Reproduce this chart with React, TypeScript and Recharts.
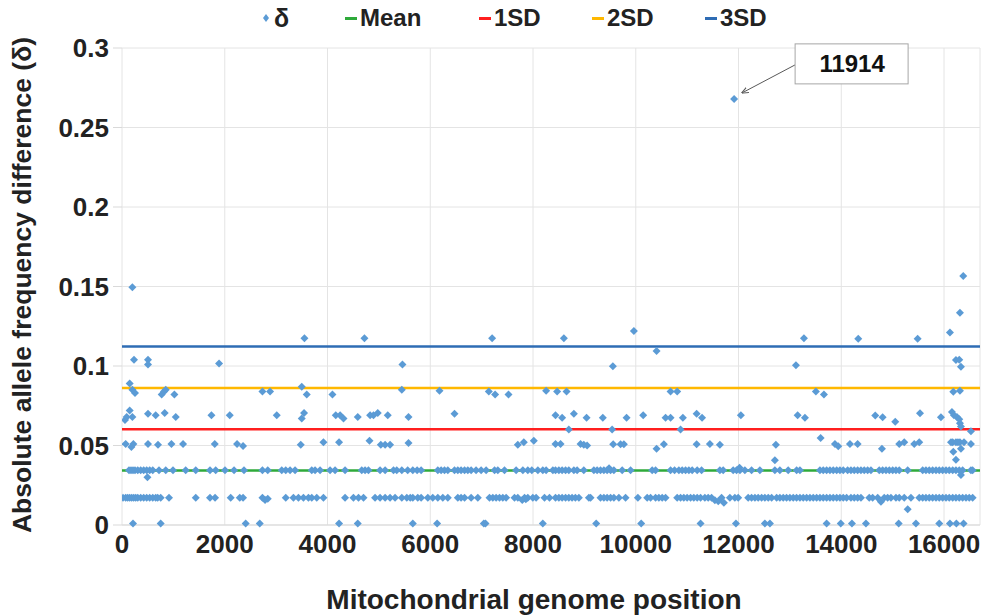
import React from 'react';
import {
  CartesianGrid,
  ReferenceDot,
  ReferenceLine,
  Scatter,
  ScatterChart,
  XAxis,
  YAxis,
} from 'recharts';

// δ values sit on a few discrete levels; rows are listed by genome position
const ZERO_ROW_Y = 0.001;
const LOW_ROW_Y = 0.0172;
const MEAN_ROW_Y = 0.0344;

const zeroRowX = [
  214, 753, 2408, 2681, 4225, 4589, 5660, 6133, 7042, 7075, 8191, 9229, 10105, 11261, 11949,
  12513, 12611, 13715, 13990, 14207, 14480, 15117, 15453, 15907, 16115, 16240, 16380,
];

const lowRowX = [
  19, 72, 111, 150, 189, 228, 267, 306, 364, 422, 481, 539, 598, 656, 695, 753, 915, 1435, 1713,
  1811, 2116, 2292, 2356, 2734, 3187, 3337, 3434, 3532, 3629, 3693, 3791, 3921, 4342, 4505, 4603,
  4700, 4926, 5023, 5121, 5218, 5315, 5446, 5543, 5610, 5660, 5757, 5822, 5952, 6049, 6147, 6244,
  6341, 6536, 6600, 6667, 6795, 6926, 7153, 7218, 7282, 7348, 7412, 7477, 7640, 7704, 7835, 7899,
  7996, 8061, 8224, 8321, 8438, 8503, 8567, 8633, 8697, 8760, 8825, 8892, 9087, 9120, 9314, 9379,
  9443, 9509, 9574, 9671, 9801, 10041, 10222, 10288, 10385, 10450, 10514, 10580, 10806, 10872,
  10935, 11000, 11066, 11130, 11195, 11261, 11345, 11410, 11475, 11670, 11832, 11929, 11994,
  12188, 12254, 12319, 12383, 12449, 12513, 12578, 12644, 12741, 12805, 12870, 12935, 13000,
  13065, 13130, 13195, 13260, 13325, 13390, 13455, 13520, 13584, 13649, 13715, 13779, 13844,
  13910, 13974, 14038, 14104, 14188, 14252, 14318, 14382, 14544, 14610, 14708, 14836, 14902,
  14967, 15064, 15128, 15226, 15356, 15518, 15584, 15648, 15712, 15778, 15843, 15907, 15973,
  16038, 16102, 16168, 16232, 16296, 16362, 16427, 16491, 16557,
];

const meanRowX = [
  136, 175, 214, 253, 306, 364, 422, 481, 539, 598, 720, 851, 993, 1240, 1435, 1713, 1824, 2005,
  2181, 2375, 2734, 2837, 3109, 3187, 3271, 3368, 3693, 3758, 3855, 4050, 4147, 4342, 4667, 4731,
  4797, 5023, 5121, 5284, 5348, 5446, 5560, 5660, 5744, 5822, 6147, 6211, 6277, 6341, 6472, 6536,
  6600, 6667, 6731, 6795, 6892, 6990, 7087, 7251, 7315, 7445, 7671, 7802, 7899, 7977, 8094, 8191,
  8255, 8386, 8438, 8503, 8567, 8633, 8697, 8795, 8859, 8989, 9184, 9248, 9314, 9379, 9443, 9509,
  9574, 9735, 9898, 10319, 10385, 10677, 10755, 10839, 10903, 10969, 11034, 11098, 11195, 11281,
  11637, 11701, 11896, 11962, 12027, 12124, 12254, 12416, 12708, 12805, 12967, 13131, 13195,
  13584, 13649, 13715, 13779, 13844, 13910, 13974, 14038, 14124, 14188, 14252, 14318, 14382,
  14447, 14513, 14577, 14739, 14805, 14870, 14935, 15000, 15064, 15128, 15292, 15584, 15648,
  15712, 15778, 15843, 15907, 15973, 16038, 16102, 16168, 16232, 16296, 16362, 16524, 16557,
];

// points slightly off the two dense rows
const offRowPoints: [number, number][] = [
  [2784, 0.0158], [2837, 0.0165], [7790, 0.0157], [7860, 0.0162], [11540, 0.0155],
  [11605, 0.015], [11715, 0.014], [14772, 0.0147], [15292, 0.0099],
  [495, 0.03], [9480, 0.0357], [12020, 0.036], [16329, 0.0314],
];

const upperPoints: [number, number][] = [
  [202, 0.1495], [234, 0.104], [506, 0.104], [506, 0.101], [1889, 0.1015],
  [150, 0.089], [202, 0.085], [253, 0.083], [773, 0.082], [818, 0.084], [851, 0.085],
  [1020, 0.082], [2734, 0.084],
  [58, 0.066], [91, 0.068], [150, 0.072], [202, 0.068], [506, 0.07], [656, 0.069], [831, 0.0705],
  [1046, 0.068], [1741, 0.069], [2097, 0.069],
  [72, 0.051], [183, 0.049], [222, 0.051], [506, 0.051], [701, 0.0505], [962, 0.051],
  [1188, 0.051], [1805, 0.051], [2239, 0.051], [2356, 0.0497],
  [3551, 0.1175], [4719, 0.1175], [5459, 0.101],
  [2882, 0.084], [3499, 0.087], [3596, 0.082], [4096, 0.082], [5446, 0.085],
  [3012, 0.069], [3499, 0.067], [3544, 0.0705], [4161, 0.069], [4245, 0.069], [4311, 0.067],
  [4589, 0.068], [4829, 0.069], [4895, 0.069], [4978, 0.0705], [5173, 0.069], [5576, 0.068],
  [3479, 0.0505], [3921, 0.052], [4225, 0.052], [4817, 0.053], [5037, 0.0505], [5121, 0.0505],
  [5218, 0.0505], [5576, 0.0515],
  [7204, 0.1175], [6180, 0.0845], [7140, 0.084], [7262, 0.082], [7523, 0.082], [8255, 0.0845],
  [6472, 0.07], [7704, 0.0505], [7821, 0.052], [8016, 0.053],
  [8600, 0.1175], [9963, 0.122], [10405, 0.1095], [9554, 0.0998],
  [8469, 0.084], [8653, 0.084], [10677, 0.084], [10806, 0.084],
  [8438, 0.069], [8567, 0.0675], [8795, 0.07], [9042, 0.0675], [9359, 0.0675], [9821, 0.0675],
  [10144, 0.069], [10580, 0.0675], [10677, 0.0675], [10917, 0.0675], [11184, 0.07],
  [11290, 0.0675],
  [8697, 0.06], [9540, 0.06], [10872, 0.06],
  [8438, 0.051], [8536, 0.051], [8925, 0.051], [8989, 0.0505], [9053, 0.05], [9560, 0.0508],
  [9704, 0.0508], [9768, 0.0508], [10405, 0.048], [10547, 0.0508], [11184, 0.0508],
  [13273, 0.1175], [13117, 0.1005], [13506, 0.084], [13663, 0.082],
  [12046, 0.069], [13150, 0.069], [13293, 0.0675], [13598, 0.0547],
  [11442, 0.051], [11637, 0.0505], [12727, 0.0505], [13876, 0.051], [13941, 0.0495],
  [12708, 0.0407],
  [16374, 0.1566], [16310, 0.1335], [16115, 0.121], [14330, 0.1172], [15486, 0.1172],
  [16232, 0.1038], [16296, 0.104], [16329, 0.0996], [16180, 0.0838], [16310, 0.0845],
  [14661, 0.0688], [14805, 0.0677], [15050, 0.065], [15532, 0.0703], [15940, 0.0677],
  [16154, 0.071], [16193, 0.069], [16251, 0.068], [16296, 0.0665], [16310, 0.064],
  [16329, 0.062], [16524, 0.059],
  [14169, 0.051], [14318, 0.051], [14791, 0.048], [15128, 0.051], [15226, 0.052],
  [15420, 0.051], [15518, 0.052], [16135, 0.052], [16168, 0.052], [16232, 0.052],
  [16271, 0.052], [16310, 0.052], [16388, 0.052], [16180, 0.046], [16329, 0.048],
  [16524, 0.051], [16232, 0.041],
];

const peakPoint = { x: 11914, y: 0.268, label: '11914' };

const statLines = [
  { name: 'Mean', value: 0.0342, color: '#2EAA3A' },
  { name: '1SD', value: 0.0602, color: '#FF1F1F' },
  { name: '2SD', value: 0.0862, color: '#FFB800' },
  { name: '3SD', value: 0.1122, color: '#2E6CB4' },
];

const xTicks = [0, 2000, 4000, 6000, 8000, 10000, 12000, 14000, 16000];
const yTicks = [0, 0.05, 0.1, 0.15, 0.2, 0.25, 0.3];

const POINT_COLOR = '#5B9BD5';
const FONT = "'Liberation Sans', Arial, sans-serif";

const points = [
  ...zeroRowX.map((x) => ({ x, y: ZERO_ROW_Y })),
  ...lowRowX.map((x) => ({ x, y: LOW_ROW_Y })),
  ...meanRowX.map((x) => ({ x, y: MEAN_ROW_Y })),
  ...offRowPoints.map(([x, y]) => ({ x, y })),
  ...upperPoints.map(([x, y]) => ({ x, y })),
  { x: peakPoint.x, y: peakPoint.y },
];

const Diamond = (props: any) => {
  const { cx, cy } = props;
  if (cx == null || cy == null) return null;
  const r = 4;
  return (
    <polygon
      points={`${cx},${cy - r} ${cx + r},${cy} ${cx},${cy + r} ${cx - r},${cy}`}
      fill={POINT_COLOR}
    />
  );
};

const PeakCallout = (props: any) => {
  const { cx, cy } = props;
  if (cx == null || cy == null) return null;
  const x1 = cx + 61;
  const y1 = cy - 34;
  const x2 = cx + 8;
  const y2 = cy - 6;
  return (
    <g>
      <defs>
        <marker id="peakArrow" viewBox="0 0 10 10" refX="9" refY="5" markerWidth="7" markerHeight="7" orient="auto">
          <path d="M0,1 L10,5 L0,9" fill="none" stroke="#595959" strokeWidth={1.5} />
        </marker>
      </defs>
      <line x1={x1} y1={y1} x2={x2} y2={y2} stroke="#595959" strokeWidth={1} markerEnd="url(#peakArrow)" />
      <rect x={cx + 61} y={cy - 55} width={113} height={40} fill="#fff" stroke="#A6A6A6" />
      <text
        x={cx + 118}
        y={cy - 35}
        textAnchor="middle"
        dominantBaseline="central"
        fontFamily={FONT}
        fontWeight={700}
        fontSize={24}
        fill="#111"
      >
        {peakPoint.label}
      </text>
    </g>
  );
};

const LegendRow = () => {
  const item = (left: number, color: string, label: string) => (
    <div key={label} style={{ position: 'absolute', left, top: 0, display: 'flex', alignItems: 'center' }}>
      <span style={{ width: 12, height: 3, background: color, display: 'inline-block', marginRight: 3 }} />
      <span>{label}</span>
    </div>
  );
  return (
    <div
      style={{
        position: 'absolute',
        left: 0,
        top: 4,
        width: 981,
        height: 30,
        fontFamily: FONT,
        fontWeight: 700,
        fontSize: 24,
        color: '#222',
        lineHeight: '28px',
      }}
    >
      <div style={{ position: 'absolute', left: 262, top: 0, display: 'flex', alignItems: 'center' }}>
        <svg width={8} height={28}>
          <polygon points="4,10 7,14 4,18 1,14" fill={POINT_COLOR} />
        </svg>
        <span style={{ marginLeft: 4, fontSize: 25 }}>δ</span>
      </div>
      {item(345, statLines[0].color, statLines[0].name)}
      {item(479, statLines[1].color, statLines[1].name)}
      {item(592, statLines[2].color, statLines[2].name)}
      {item(705, statLines[3].color, statLines[3].name)}
    </div>
  );
};

export default function App() {
  const tickStyle = { fill: '#222', fontSize: 26, fontWeight: 700, fontFamily: FONT };
  return (
    <div style={{ position: 'absolute', left: 0, top: 0, width: 981, height: 615, background: '#fff' }}>
      <ScatterChart width={981} height={615} margin={{ top: 48, right: 1, bottom: 60, left: 0 }}>
        <CartesianGrid stroke="#E4E4E4" strokeWidth={1} />
        <XAxis
          type="number"
          dataKey="x"
          domain={[0, 16700]}
          ticks={xTicks}
          allowDataOverflow
          tick={tickStyle}
          tickLine={false}
          tickSize={6}
          tickMargin={4}
          axisLine={{ stroke: '#D9D9D9' }}
        />
        <YAxis
          type="number"
          dataKey="y"
          domain={[0, 0.3]}
          ticks={yTicks}
          width={122}
          tick={tickStyle}
          tickFormatter={(v: number) => String(v)}
          tickLine={{ stroke: '#D9D9D9' }}
          tickSize={9}
          tickMargin={4}
          axisLine={false}
        />
        {statLines.map((s) => (
          <ReferenceLine key={s.name} y={s.value} stroke={s.color} strokeWidth={2.5} />
        ))}
        <Scatter data={points} shape={Diamond} isAnimationActive={false} />
        <ReferenceDot x={peakPoint.x} y={peakPoint.y} r={0} ifOverflow="visible" shape={PeakCallout} />
      </ScatterChart>
      <LegendRow />
      <div
        style={{
          position: 'absolute',
          left: 22,
          top: 285,
          transform: 'translate(-50%, -50%) rotate(-90deg)',
          whiteSpace: 'nowrap',
          fontFamily: FONT,
          fontWeight: 700,
          fontSize: 26.5,
          color: '#222',
        }}
      >
        Absolute allele frequency difference (δ)
      </div>
      <div
        style={{
          position: 'absolute',
          left: 534,
          top: 600,
          transform: 'translate(-50%, -50%)',
          whiteSpace: 'nowrap',
          fontFamily: FONT,
          fontWeight: 700,
          fontSize: 28,
          color: '#222',
        }}
      >
        Mitochondrial genome position
      </div>
    </div>
  );
}
